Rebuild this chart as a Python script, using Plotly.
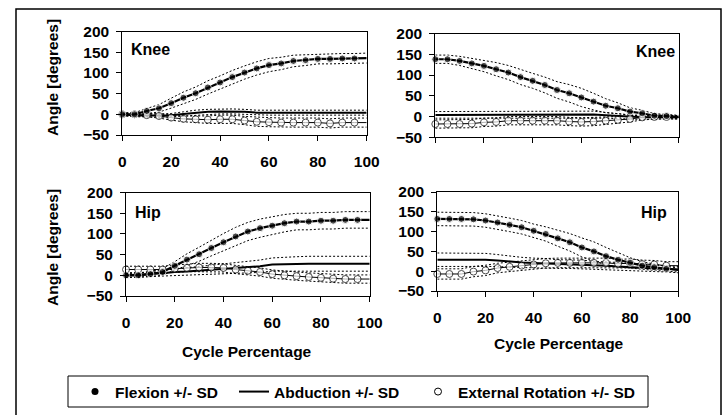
import plotly.graph_objects as go

# ---------------- data ----------------
cycle_pct = [0, 5, 10, 15, 20, 25, 30, 35, 40, 45, 50, 55, 60, 65, 70, 75, 80, 85, 90, 95, 100]

# Knee (left panel)
knee_l_flex = [0, 0, 8, 14.5, 27, 40, 51, 65, 77, 90, 101, 111, 119, 123, 129, 131, 134, 134, 135, 135, 136]
knee_l_flex_sd = [4, 4, 6, 9, 12, 14, 15, 16, 16, 16, 16, 16, 16, 15, 14, 13, 12, 12, 12, 12, 12]
knee_l_abd = [0, -3, -3, -3, -2, 1, 4, 6, 7, 7, 6, 4, 4, 4, 4, 4, 4, 4, 4, 4, 4]
knee_l_abd_sd = [3, 3, 3, 4, 4, 5, 6, 6, 6, 6, 6, 6, 6, 6, 6, 6, 6, 6, 6, 6, 6]
knee_l_er = [0, 0, -2, -4, -8, -11, -12, -13, -12, -12, -15, -18, -19, -20, -20, -20, -20, -22, -20, -20, -20]
knee_l_er_sd = [3, 3, 4, 5, 6, 7, 8, 9, 10, 10, 10, 11, 11, 11, 11, 11, 11, 11, 11, 11, 11]

# Knee (right panel)
knee_r_flex = [138, 138, 134, 128, 122, 114, 106, 95, 86, 76, 64, 56, 46, 36, 26, 20, 12, 8, 2, 1, -1]
knee_r_flex_sd = [10, 10, 11, 12, 14, 16, 17, 18, 18, 19, 20, 21, 22, 20, 17, 13, 9, 7, 5, 4, 4]
knee_r_abd = [4, 4, 4, 4, 4, 5, 5, 5, 5, 5, 5, 5, 5, 5, 3, 1, -1, -2, -2, -2, -2]
knee_r_abd_sd = [8, 8, 8, 8, 8, 8, 8, 8, 8, 8, 8, 8, 8, 8, 7, 6, 5, 5, 4, 4, 4]
knee_r_er = [-18, -18, -18, -17, -14, -13, -10, -10, -10, -10, -10, -12, -13, -12, -10, -8, -6, -2, -1, -1, -2]
knee_r_er_sd = [10, 10, 10, 10, 10, 10, 10, 10, 10, 10, 10, 10, 10, 10, 9, 8, 7, 6, 5, 4, 4]

# Hip (left panel)
hip_l_flex = [0, 0, 3, 8, 23, 38, 51, 66, 80, 94, 106, 114, 120, 126, 130, 130, 132, 132, 134, 134, 134]
hip_l_flex_sd = [5, 5, 6, 8, 10, 14, 17, 19, 21, 22, 22, 22, 21, 21, 20, 20, 20, 20, 20, 20, 20]
hip_l_abd = [0, 1, 3, 5, 8, 9, 11, 13, 15, 17, 19, 22, 26, 27, 28, 28, 28, 28, 28, 28, 28]
hip_l_abd_sd = [5, 5, 6, 7, 8, 9, 10, 11, 12, 13, 14, 15, 16, 17, 17, 18, 18, 18, 18, 18, 18]
hip_l_er = [14, 14, 14, 14, 16, 18, 19, 19, 18, 14, 11, 8, 3, 0, -2, -4, -6, -8, -9, -9, -9]
hip_l_er_sd = [8, 8, 8, 8, 9, 9, 10, 10, 10, 10, 10, 10, 10, 10, 10, 10, 10, 10, 10, 10, 10]

# Hip (right panel)
hip_r_flex = [132, 132, 132, 131, 128, 123, 117, 111, 102, 94, 83, 73, 60, 50, 38, 29, 21, 14, 10, 6, 3]
hip_r_flex_sd = [17, 17, 17, 17, 17, 17, 17, 17, 17, 18, 20, 22, 24, 24, 22, 18, 13, 10, 8, 6, 5]
hip_r_abd = [29, 29, 29, 29, 29, 27, 24, 22, 21, 20, 18, 18, 17, 15, 14, 12, 10, 9, 7, 6, 4]
hip_r_abd_sd = [17, 17, 17, 17, 16, 15, 14, 13, 12, 12, 11, 11, 11, 10, 10, 10, 9, 9, 8, 8, 8]
hip_r_er = [-7, -7, -7, -1, 2, 8, 11, 14, 17, 20, 21, 21, 21, 21, 21, 19, 20, 18, 17, 14, 14]
hip_r_er_sd = [13, 13, 13, 13, 13, 12, 12, 12, 12, 12, 12, 12, 12, 12, 12, 11, 11, 10, 10, 10, 10]

x_ticks = [0, 20, 40, 60, 80, 100]
y_ticks = [-50, 0, 50, 100, 150, 200]
panel_labels = ["Knee", "Knee", "Hip", "Hip"]
legend_names = ["Flexion +/- SD", "Abduction +/- SD", "External Rotation +/- SD"]
x_title = "Cycle Percentage"
y_title = "Angle [degrees]"

# ---------------- layout helpers ----------------
W, H = 724, 415
FONT = "Liberation Sans, Arial, sans-serif"


def px(x):
    return x / W


def py(y):
    return 1 - y / H


fig = go.Figure()

marker_sizes = [7] * (len(cycle_pct) - 1) + [0]
SD_LINE = dict(color="black", width=1, dash="2px,2px")


def add_panel(idx, flex, flex_sd, abd, abd_sd, er, er_sd):
    xa = "x" if idx == 1 else f"x{idx}"
    ya = "y" if idx == 1 else f"y{idx}"
    for mean, sd in ((flex, flex_sd), (abd, abd_sd), (er, er_sd)):
        up = [m + s for m, s in zip(mean, sd)]
        lo = [m - s for m, s in zip(mean, sd)]
        for band in (up, lo):
            fig.add_trace(go.Scatter(x=cycle_pct, y=band, mode="lines", line=SD_LINE,
                                     xaxis=xa, yaxis=ya, showlegend=False,
                                     hoverinfo="skip", cliponaxis=False))
    fig.add_trace(go.Scatter(x=cycle_pct, y=abd, mode="lines",
                             line=dict(color="black", width=2),
                             xaxis=xa, yaxis=ya, showlegend=False, cliponaxis=False))
    fig.add_trace(go.Scatter(x=cycle_pct, y=er, mode="lines+markers",
                             line=dict(color="black", width=1),
                             marker=dict(symbol="circle", size=marker_sizes, color="white",
                                         line=dict(color="black", width=1)),
                             xaxis=xa, yaxis=ya, showlegend=False, cliponaxis=False))
    fig.add_trace(go.Scatter(x=cycle_pct, y=flex, mode="lines+markers",
                             line=dict(color="black", width=2.2),
                             marker=dict(symbol="circle", size=marker_sizes, color="black"),
                             xaxis=xa, yaxis=ya, showlegend=False, cliponaxis=False))


add_panel(1, knee_l_flex, knee_l_flex_sd, knee_l_abd, knee_l_abd_sd, knee_l_er, knee_l_er_sd)
add_panel(2, knee_r_flex, knee_r_flex_sd, knee_r_abd, knee_r_abd_sd, knee_r_er, knee_r_er_sd)
add_panel(3, hip_l_flex, hip_l_flex_sd, hip_l_abd, hip_l_abd_sd, hip_l_er, hip_l_er_sd)
add_panel(4, hip_r_flex, hip_r_flex_sd, hip_r_abd, hip_r_abd_sd, hip_r_er, hip_r_er_sd)

# legend-only traces, each in its own legend so the spacing can be matched
fig.add_trace(go.Scatter(x=[None], y=[None], mode="markers", name=legend_names[0], legend="legend",
                         marker=dict(symbol="circle", size=7, color="black")))
fig.add_trace(go.Scatter(x=[None], y=[None], mode="lines", name=legend_names[1], legend="legend2",
                         line=dict(color="black", width=2)))
fig.add_trace(go.Scatter(x=[None], y=[None], mode="markers", name=legend_names[2], legend="legend3",
                         marker=dict(symbol="circle", size=7, color="white",
                                     line=dict(color="black", width=1))))

tickfont = dict(family=FONT, size=15.5, color="black", weight="bold")

panels = {
    1: dict(x=(122.3, 366.7), y=(31.6, 135.0), labels=True),
    2: dict(x=(435.3, 678.7), y=(33.5, 137.3), labels=False),
    3: dict(x=(126.0, 369.7), y=(192.6, 296.0), labels=True),
    4: dict(x=(437.3, 678.3), y=(192.0, 291.0), labels=True),
}

layout_axes = {}
for i, p in panels.items():
    xk = "xaxis" if i == 1 else f"xaxis{i}"
    yk = "yaxis" if i == 1 else f"yaxis{i}"
    ya = "y" if i == 1 else f"y{i}"
    xa = "x" if i == 1 else f"x{i}"
    layout_axes[xk] = dict(domain=[px(p["x"][0]), px(p["x"][1])], anchor=ya,
                           range=[0, 100], tickvals=x_ticks, showticklabels=p["labels"],
                           showline=True, linecolor="black", linewidth=1, mirror=True,
                           ticks="outside", ticklen=5, tickcolor="black", tickwidth=1,
                           showgrid=False, zeroline=False, tickfont=tickfont,
                           ticklabelstandoff=7, automargin=False)
    layout_axes[yk] = dict(domain=[py(p["y"][1]), py(p["y"][0])], anchor=xa,
                           range=[-50, 200], tickvals=y_ticks,
                           showline=True, linecolor="black", linewidth=1, mirror=True,
                           ticks="outside", ticklen=5, tickcolor="black", tickwidth=1,
                           showgrid=False, zeroline=False, tickfont=tickfont,
                           ticklabelstandoff=4, automargin=False)

fig.update_layout(**layout_axes)

bold = dict(family=FONT, size=15.5, color="black", weight="bold")
lbl = dict(family=FONT, size=16, color="black", weight="bold")
annotations = [
    dict(x=px(129), y=py(50), text=panel_labels[0], xanchor="left", yanchor="middle", font=lbl),
    dict(x=px(677), y=py(52), text=panel_labels[1], xanchor="right", yanchor="middle", font=lbl),
    dict(x=px(133), y=py(213), text=panel_labels[2], xanchor="left", yanchor="middle", font=lbl),
    dict(x=px(669), y=py(213), text=panel_labels[3], xanchor="right", yanchor="middle", font=lbl),
    dict(x=px(52), y=py(78), text=y_title, textangle=-90, xanchor="center", yanchor="middle", font=bold),
    dict(x=px(52), y=py(248), text=y_title, textangle=-90, xanchor="center", yanchor="middle", font=bold),
    dict(x=px(247), y=py(351), text=x_title, xanchor="center", yanchor="middle", font=bold),
    dict(x=px(559), y=py(343), text=x_title, xanchor="center", yanchor="middle", font=bold),
]
for a in annotations:
    a.update(xref="paper", yref="paper", showarrow=False)

shapes = [
    # outer frame (its bottom edge falls outside the picture)
    dict(type="rect", xref="paper", yref="paper", x0=px(16), x1=px(721), y0=py(430), y1=py(9),
         line=dict(color="black", width=1.5), fillcolor="rgba(0,0,0,0)", layer="above"),
    # legend box
    dict(type="rect", xref="paper", yref="paper", x0=px(68), x1=px(648), y0=py(407), y1=py(376),
         line=dict(color="black", width=1), fillcolor="rgba(0,0,0,0)", layer="above"),
]

leg_common = dict(orientation="h", xanchor="left", yanchor="middle", y=py(392),
                  bgcolor="rgba(0,0,0,0)", borderwidth=0,
                  font=dict(family=FONT, size=15.5, color="black", weight="bold"))

fig.update_layout(
    width=W, height=H, autosize=False,
    margin=dict(l=0, r=0, t=0, b=0, pad=0, autoexpand=False),
    paper_bgcolor="white", plot_bgcolor="white",
    annotations=annotations, shapes=shapes,
    showlegend=True,
    legend=dict(x=px(75), **leg_common),
    legend2=dict(x=px(234), **leg_common),
    legend3=dict(x=px(418), **leg_common),
)

# remove the browser's default body margin so the 724x415 figure fills the window exactly
post = "document.body.style.margin = '0';"

fig.write_html("out.html", post_script=post, config={"displayModeBar": False})
